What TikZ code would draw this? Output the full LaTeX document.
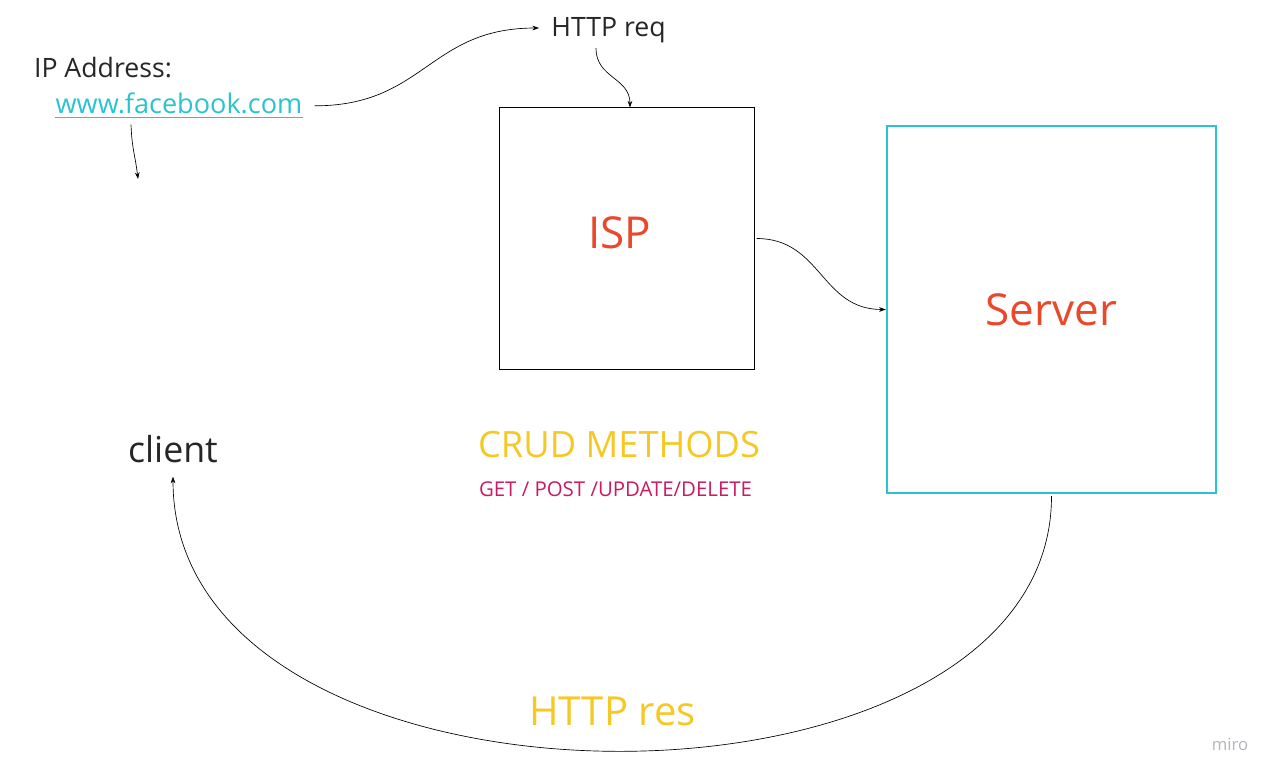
\documentclass[tikz,border=0pt]{standalone}
\usepackage{fontspec}
\setmainfont{Open Sans}
\usetikzlibrary{arrows.meta}
\definecolor{linkcyan}{HTML}{2BC3CF}
\definecolor{boxred}{HTML}{E9482B}
\definecolor{crudyellow}{HTML}{F6C823}
\definecolor{methmagenta}{HTML}{C91B63}
\definecolor{txtgray}{HTML}{262626}
\definecolor{mirogray}{HTML}{B4B4BC}

\begin{document}
\begin{tikzpicture}[x=0.75pt, y=-0.75pt,
  lbl/.style={inner sep=0pt, anchor=base, text=txtgray},
  flow/.style={black, line width=0.5pt, -{Stealth[length=5pt,width=3.5pt]}},
  box/.style={draw, inner sep=0pt}]
\useasboundingbox (0,0) rectangle (1280,780);
\fill[white] (0,0) rectangle (1280,780);

% client side
\node[lbl, font=\fontsize{20}{24}\selectfont] (ip) at (103,78) {IP Address:};
\node[lbl, text=linkcyan, font=\fontsize{20.3}{24}\selectfont] (fb) at (179,114) {www.facebook.com};
\draw[linkcyan, line width=0.9pt] ([yshift=-2.25pt]fb.south west) -- ([yshift=-2.25pt]fb.south east);
\coordinate (ipdst) at (138,179);
\draw[flow] ([xshift=-36pt,yshift=-7.5pt]fb.south) .. controls +(1,25) and +(-3,-25) .. (ipdst);
\node[lbl, font=\fontsize{26.8}{31}\selectfont] (client) at (173,462) {client};

% request
\node[lbl, font=\fontsize{20}{24}\selectfont] (req) at (608.5,37) {HTTP req};
\draw[flow] ([xshift=9pt,yshift=-1.5pt]fb.east) .. controls +(110,0) and +(-110,0) .. ([xshift=-9pt,yshift=2pt]req.west);

% ISP
\node[box, line width=0.75pt, minimum width=191.25pt, minimum height=195.75pt] (isp) at (626.5,238.5) {};
\node[lbl, text=boxred, font=\fontsize{33}{40}\selectfont] (isplbl) at (619.5,249) {ISP};
\draw[flow] ([xshift=-9.4pt,yshift=-3.4pt]req.south) .. controls +(0,30) and +(0,-30) .. ([xshift=2.6pt]isp.north);

% Server
\node[box, draw=linkcyan, line width=1.8pt, minimum width=246.75pt, minimum height=275.25pt,
  text=boxred, font=\fontsize{33}{40}\selectfont] (server) at (1051.5,309.5) {Server};
\draw[flow] ([xshift=1.5pt]isp.east) .. controls +(65,0) and +(-65,0) .. (server.west);

% methods
\node[lbl, text=crudyellow, font=\fontsize{27.2}{32}\selectfont] (crud) at (619,457) {CRUD METHODS};
\node[lbl, text=methmagenta, font=\fontsize{15.3}{18}\selectfont] (meth) at (615.5,496) {GET / POST /UPDATE/DELETE};

% response
\draw[flow] ([yshift=-1.5pt]server.south) .. controls +(0,343) and +(0,362) .. ([yshift=-10.5pt]client.south);
\node[lbl, text=crudyellow, font=\fontsize{30}{36}\selectfont] (res) at (612.5,725) {HTTP res};

\node[lbl, text=mirogray, font=\fontsize{12.5}{15}\selectfont] (miro) at (1230,750) {miro};
\end{tikzpicture}
\end{document}
